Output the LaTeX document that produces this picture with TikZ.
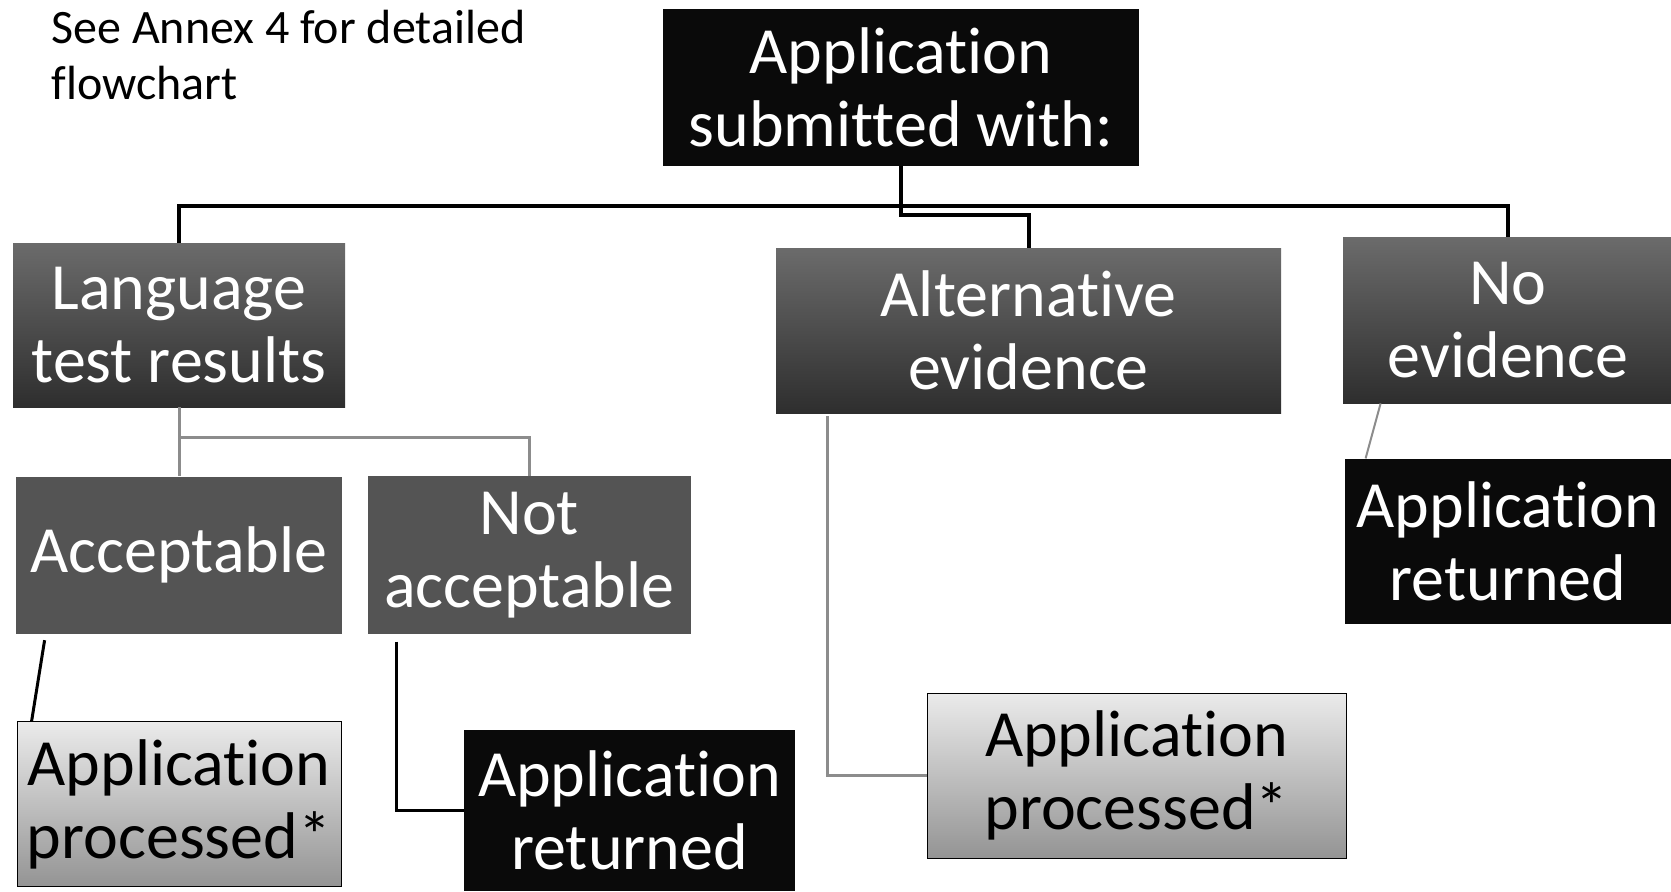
\documentclass[tikz,border=0pt]{standalone}
\usepackage{fontspec}
\setmainfont{Carlito}[Ligatures=NoCommon]
\usetikzlibrary{positioning}

\begin{document}
\begin{tikzpicture}[
    x=0.5pt, y=0.5pt,
    box/.style={
        rectangle,
        align=center,
        inner sep=2pt,
        font=\fontsize{33}{36.5}\selectfont
    },
    darkbox/.style={box, text=white, top color=black!58, bottom color=black!82},
    midbox/.style={box, text=white, fill=black!67},
    blackbox/.style={box, text=white, fill=black!96},
    lightbox/.style={box, text=black, draw=black, thin, top color=black!8, bottom color=black!42},
    bus/.style={line width=2pt, black},
    link/.style={line width=1.5pt, black},
    greylink/.style={line width=1.5pt, black!45}
]
\useasboundingbox (0,0) rectangle (1671,-891);

\node[anchor=north west, align=left, inner sep=0pt, font=\fontsize{24}{28}\selectfont] (note) at (51,-10) {See Annex 4 for detailed\\flowchart};

\node[blackbox, minimum width=238pt, minimum height=78.5pt] (submitted) at (901,-87.5) {Application\\submitted with:};

\node[darkbox, minimum width=166pt, minimum height=82pt] (language) at (179,-325) {Language\\test results};
\node[darkbox, minimum width=252.5pt, minimum height=82.5pt] (alternative) at (1028.5,-330.5) {Alternative\\evidence};
\node[darkbox, minimum width=165pt, minimum height=83pt] (noevidence) at (1508,-320) {No\\evidence};

\node[midbox, minimum width=163pt, minimum height=78.5pt, below=34.5pt of language] (acceptable) {Acceptable};
\node[midbox, minimum width=161.5pt, minimum height=79pt, right=12.5pt of acceptable] (notacceptable) {Not\\acceptable};

\node[lightbox, minimum width=162pt, minimum height=82.5pt, below=43.5pt of acceptable] (processedA) {Application\\processed*};
\node[blackbox, minimum width=165.5pt, minimum height=80.5pt] (returnedA) at (629.5,-810.5) {Application\\returned};
\node[lightbox, minimum width=209.5pt, minimum height=82.5pt] (processedB) at (1136.5,-775.5) {Application\\processed*};
\node[blackbox, minimum width=163pt, minimum height=82.5pt, below=27.5pt of noevidence] (returnedB) {Application\\returned};

\draw[bus] (submitted.south) -- ++(0,-40) -| (language.north);
\draw[bus] (submitted.south) -- ++(0,-40) -| (noevidence.north);
\draw[bus] (submitted.south) -- ++(0,-49) -| (alternative.north);

\draw[greylink] (language.south) -- ++(0,-30) -| (notacceptable.north);
\draw[greylink] (language.south) -- (language.south |- acceptable.north);

\draw[link] ([xshift=14.5pt,yshift=-3pt]acceptable.south west) -- ([xshift=7.5pt]processedA.north west);
\draw[link] ([xshift=14.5pt,yshift=-3.5pt]notacceptable.south west) |- (returnedA.west);
\draw[greylink] ([xshift=26pt,yshift=-1.5pt]alternative.south west) |- (processedB.west);
\draw[greylink, line width=1pt] ([xshift=19pt]noevidence.south west) -- ([xshift=10.5pt]returnedB.north west);

\end{tikzpicture}
\end{document}
